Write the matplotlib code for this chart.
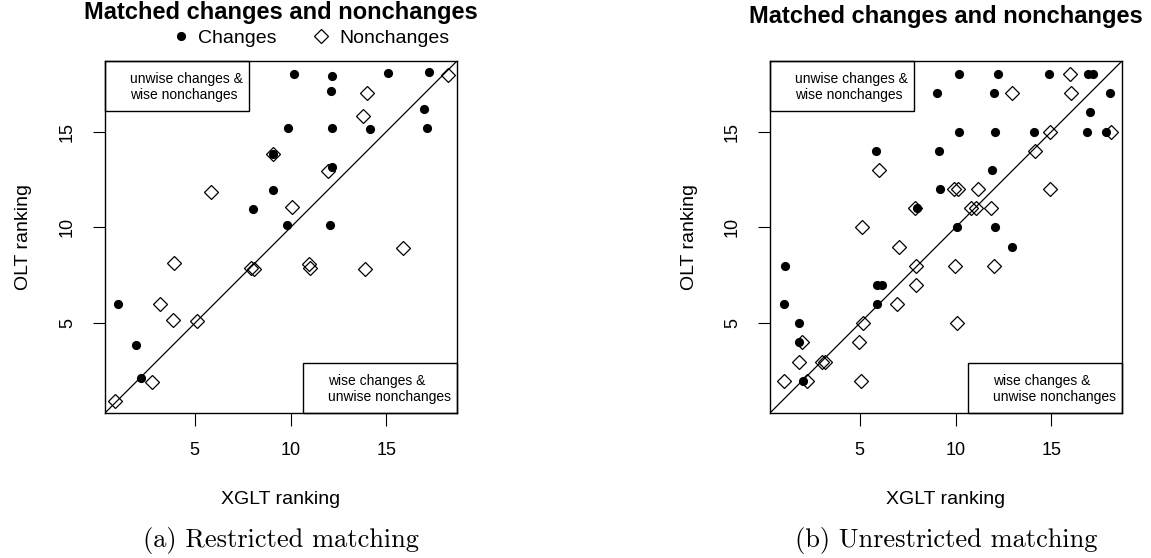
import matplotlib
matplotlib.use("Agg")
import matplotlib.pyplot as plt
from matplotlib.lines import Line2D
from matplotlib.patches import Rectangle

plt.rcParams['font.family'] = ['Liberation Sans', 'DejaVu Sans']

# ---------------- data ----------------
ticks = [5, 10, 15]
rank_range = (1, 18)

left_chg_x = [10.2, 12.15, 15.07, 17.22, 12.09, 16.96, 9.88, 12.15, 14.14, 17.13,
              9.1, 12.15, 9.07, 8.02, 9.83, 12.06, 0.98, 1.94, 2.18]
left_chg_y = [18.0, 17.9, 18.04, 18.09, 17.13, 16.16, 15.17, 15.2, 15.12, 15.2,
              13.83, 13.17, 11.95, 10.95, 10.13, 10.13, 5.99, 3.87, 2.16]
left_non_x = [18.23, 14.0, 13.79, 9.1, 11.97, 5.85, 10.09, 3.92, 3.19, 3.88,
              5.10, 2.79, 0.84, 7.92, 8.09, 15.88, 10.98, 11.01, 13.88]
left_non_y = [17.95, 16.99, 15.83, 13.83, 12.94, 11.86, 11.05, 8.13, 6.01, 5.17,
              5.13, 1.95, 0.96, 7.87, 7.83, 8.94, 8.08, 7.87, 7.82]

right_chg_x = [9.05, 5.84, 9.12, 9.17, 8.0, 10.16, 12.21, 14.85, 16.93, 17.16,
               12.0, 18.07, 16.99, 10.18, 12.04, 14.09, 16.87, 17.82, 11.9, 10.08,
               12.04, 12.94, 1.1, 5.88, 6.14, 1.07, 5.88, 1.85, 1.85, 2.05]
right_chg_y = [17, 14, 14, 12, 11, 18, 18, 18, 18, 18,
               17, 17, 16, 15, 15, 15, 15, 15, 13, 10,
               10, 9, 8, 7, 7, 6, 6, 5, 4, 2]
right_non_x = [6.01, 9.92, 7.87, 5.1, 7.05, 15.98, 12.94, 16.03, 14.92, 18.12,
               14.12, 10.13, 11.17, 14.9, 10.82, 11.08, 11.83, 7.91, 9.96, 7.91,
               6.92, 5.18, 10.09, 1.97, 4.97, 1.85, 3.01, 3.18, 1.03, 2.23,
               5.06, 12.0]
right_non_y = [13, 12, 11, 10, 9, 18, 17, 17, 15, 15,
               14, 12, 12, 12, 11, 11, 11, 8, 8, 7,
               6, 5, 5, 4, 4, 3, 3, 3, 2, 2,
               2, 8]

title = "Matched changes and nonchanges"
xlabel = "XGLT ranking"
ylabel = "OLT ranking"
box_top = "unwise changes &\nwise nonchanges"
box_bot = "wise changes &\nunwise nonchanges"
captions = ["(a) Restricted matching", "(b) Unrestricted matching"]
legend_labels = ["Changes", "Nonchanges"]

# ---------------- figure ----------------
W, H = 1151, 558
fig = plt.figure(figsize=(W / 100, H / 100), dpi=100)

ext = 0.04 * (rank_range[1] - rank_range[0])
lim = (rank_range[0] - ext, rank_range[1] + ext)

panels = [
    (105, left_chg_x, left_chg_y, left_non_x, left_non_y, 19),
    (770, right_chg_x, right_chg_y, right_non_x, right_non_y, 23),
]

for i, (x0, cx, cy, nx, ny, tbase) in enumerate(panels):
    ax = fig.add_axes([x0 / W, 1 - 413 / H, 352 / W, 352 / H])
    ax.set_xlim(lim)
    ax.set_ylim(lim)
    ax.plot(lim, lim, color='black', lw=0.9, zorder=2)
    ax.plot(cx, cy, 'o', color='black', ms=6.6, mew=0, zorder=3)
    ax.plot(nx, ny, 'D', mfc='none', mec='black', ms=6.8, mew=0.9, zorder=4)
    ax.set_xticks(ticks)
    ax.set_yticks(ticks)
    ax.set_xticklabels([str(t) for t in ticks], fontsize=13)
    ax.set_yticklabels([str(t) for t in ticks], fontsize=13, rotation=90, va='center')
    ax.tick_params(direction='out', length=9, width=0.8, pad=12)
    for s in ax.spines.values():
        s.set_linewidth(1.0)

    # annotation boxes
    ax.add_patch(Rectangle((0, 0.858), 0.41, 0.142, transform=ax.transAxes,
                           fill=False, lw=1.0, ec='black', zorder=5, clip_on=False))
    ax.text(0.071, 0.925, box_top, transform=ax.transAxes, fontsize=10,
            ha='left', va='center', linespacing=1.2)
    ax.add_patch(Rectangle((0.562, 0), 0.438, 0.141, transform=ax.transAxes,
                           fill=False, lw=1.0, ec='black', zorder=5, clip_on=False))
    ax.text(0.634, 0.0676, box_bot, transform=ax.transAxes, fontsize=10,
            ha='left', va='center', linespacing=1.2)

    xc = (x0 + 176) / W
    fig.text(xc, 1 - tbase / H, title, fontsize=17, fontweight='bold',
             ha='center', va='baseline')
    fig.text(xc, 1 - 503.5 / H, xlabel, fontsize=14, ha='center', va='baseline')
    fig.text((x0 - 81) / W, 1 - 237 / H, ylabel, fontsize=14, ha='center',
             va='center', rotation=90)
    fig.text(xc, 1 - 540 / H, captions[i], fontsize=19, family='cmr10',
             ha='center', va='center')

# legend (left panel only)
handles = [Line2D([], [], ls='none', marker='o', color='black', ms=6.6, mew=0),
           Line2D([], [], ls='none', marker='D', mfc='none', mec='black', ms=6.8, mew=0.9)]
fig.legend(handles, legend_labels, loc='center', bbox_to_anchor=(310 / W, 1 - 38 / H),
           ncol=2, frameon=False, fontsize=14, handlelength=1.0, handletextpad=0.4,
           columnspacing=1.8, borderpad=0, borderaxespad=0)

fig.savefig("out.png", dpi=100)
